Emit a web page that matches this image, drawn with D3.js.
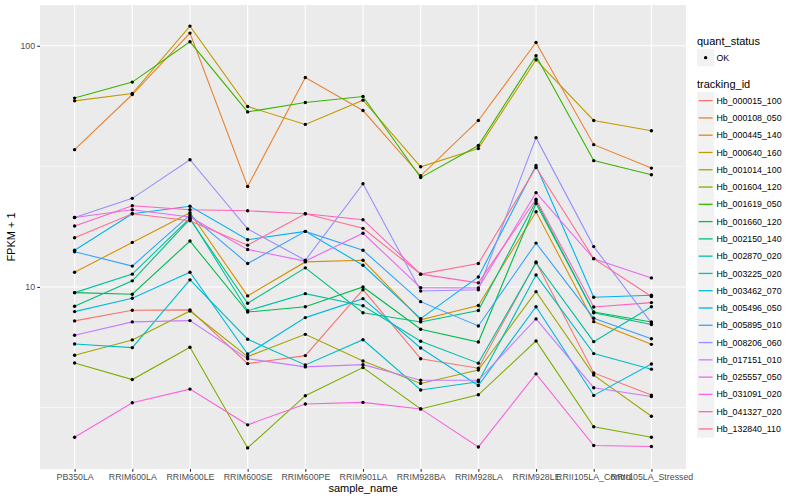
<!DOCTYPE html>
<html>
<head>
<meta charset="utf-8">
<script src="https://cdnjs.cloudflare.com/ajax/libs/d3/7.8.5/d3.min.js"></script>
<style>
  body { margin: 0; background: #fff; }
  text { font-family: "Liberation Sans", Arial, Helvetica, sans-serif; }
</style>
</head>
<body>
<script>
var samples = ["PB350LA", "RRIM600LA", "RRIM600LE", "RRIM600SE", "RRIM600PE", "RRIM901LA",
  "RRIM928BA", "RRIM928LA", "RRIM928LE", "RRII105LA_Control", "RRII105LA_Stressed"];

var trackingIds = ["Hb_000015_100", "Hb_000108_050", "Hb_000445_140", "Hb_000640_160", "Hb_001014_100",
  "Hb_001604_120", "Hb_001619_050", "Hb_001660_120", "Hb_002150_140", "Hb_002870_020",
  "Hb_003225_020", "Hb_003462_070", "Hb_005496_050", "Hb_005895_010", "Hb_008206_060",
  "Hb_017151_010", "Hb_025557_050", "Hb_031091_020", "Hb_041327_020", "Hb_132840_110"];

var lineColors = ["#F8766D", "#EA8331", "#D89000", "#C09B00", "#A3A500", "#7CAE00", "#39B600", "#00BB4E",
  "#00BF7D", "#00C1A3", "#00BFC4", "#00BAE0", "#00B0F6", "#35A2FF", "#9590FF", "#C77CFF",
  "#E76BF3", "#FA62DB", "#FF62BC", "#FF6C91"];

// FPKM + 1, one value per sample
var Hb_000015_100 = [7.23, 8.00, 8.03, 4.81, 5.19, 9.74, 5.04, 4.60, 12.7, 4.40, 3.56];
var Hb_000108_050 = [37.1, 62.8, 112.9, 26.1, 73.9, 53.9, 28.9, 49.0, 103.2, 38.9, 31.1];
var Hb_000445_140 = [11.5, 15.3, 20.3, 9.18, 12.7, 12.9, 7.30, 8.38, 20.5, 7.18, 5.78];
var Hb_000640_160 = [59.1, 63.4, 120.7, 56.0, 47.2, 59.5, 31.5, 37.5, 87.5, 49.0, 44.4];
var Hb_001014_100 = [5.21, 6.03, 7.95, 5.14, 6.36, 4.93, 3.98, 4.52, 9.56, 4.31, 2.91];
var Hb_001604_120 = [4.84, 4.13, 5.62, 2.15, 3.54, 4.63, 3.12, 3.57, 5.97, 2.63, 2.38];
var Hb_001619_050 = [60.7, 70.7, 103.9, 53.2, 58.2, 61.6, 28.4, 38.6, 90.9, 33.4, 29.2];
var Hb_001660_120 = [9.47, 9.33, 15.5, 7.87, 8.28, 10.0, 6.68, 5.91, 22.2, 7.87, 7.16];
var Hb_002150_140 = [8.32, 10.6, 19.1, 8.56, 12.0, 7.82, 7.16, 7.99, 22.7, 7.82, 6.98];
var Hb_002870_020 = [9.47, 11.3, 19.3, 7.97, 9.38, 8.36, 5.95, 4.83, 12.6, 5.93, 8.28];
var Hb_003225_020 = [5.80, 5.60, 10.7, 6.07, 4.75, 6.04, 3.74, 4.04, 11.2, 5.29, 4.56];
var Hb_003462_070 = [7.90, 8.98, 11.5, 5.27, 7.46, 8.94, 5.58, 3.90, 8.28, 3.55, 4.79];
var Hb_005496_050 = [14.2, 20.1, 21.6, 15.7, 17.0, 12.3, 7.39, 11.0, 31.9, 9.06, 9.24];
var Hb_005895_010 = [14.0, 12.2, 19.9, 12.5, 17.0, 14.2, 8.69, 6.89, 15.2, 7.42, 6.10];
var Hb_008206_060 = [19.4, 23.3, 33.7, 17.4, 12.9, 26.8, 9.62, 9.74, 41.6, 14.7, 7.09];
var Hb_017151_010 = [6.30, 7.16, 7.25, 5.04, 4.66, 4.76, 4.10, 4.10, 7.37, 3.82, 3.51];
var Hb_025557_050 = [19.4, 20.9, 19.5, 14.3, 12.8, 16.7, 9.93, 9.90, 24.6, 13.1, 10.9];
var Hb_031091_020 = [2.38, 3.31, 3.77, 2.68, 3.27, 3.32, 3.12, 2.17, 4.36, 2.20, 2.18];
var Hb_041327_020 = [17.9, 21.7, 20.9, 20.7, 20.1, 19.0, 11.3, 10.4, 23.1, 8.26, 8.61];
var Hb_132840_110 = [16.0, 20.1, 18.8, 14.9, 20.1, 17.5, 11.3, 12.5, 31.3, 13.1, 9.12];

var series = [Hb_000015_100, Hb_000108_050, Hb_000445_140, Hb_000640_160, Hb_001014_100,
  Hb_001604_120, Hb_001619_050, Hb_001660_120, Hb_002150_140, Hb_002870_020,
  Hb_003225_020, Hb_003462_070, Hb_005496_050, Hb_005895_010, Hb_008206_060,
  Hb_017151_010, Hb_025557_050, Hb_031091_020, Hb_041327_020, Hb_132840_110];

var majorTicks = [10, 100];
var minorTicks = [3.162, 31.62];

var W = 800, H = 500;
var panel = { left: 40, right: 686, top: 5, bottom: 469 };

var svg = d3.select('body').append('svg')
  .attr('width', W)
  .attr('height', H);

var x = d3.scalePoint()
  .domain(samples)
  .range([panel.left, panel.right])
  .padding(0.6);

// log scale with 5% expansion like ggplot
var allVals = d3.merge(series);
var lo = Math.log10(d3.min(allVals)), hi = Math.log10(d3.max(allVals));
var pad = (hi - lo) * 0.05;
var y = d3.scaleLog()
  .domain([Math.pow(10, lo - pad), Math.pow(10, hi + pad)])
  .range([panel.bottom, panel.top]);

// panel + grid
svg.append('rect')
  .attr('x', panel.left).attr('y', panel.top)
  .attr('width', panel.right - panel.left)
  .attr('height', panel.bottom - panel.top)
  .attr('fill', '#EBEBEB');

svg.selectAll('line.minor').data(minorTicks).enter().append('line')
  .attr('class', 'minor')
  .attr('x1', panel.left).attr('x2', panel.right)
  .attr('y1', function(d) { return y(d); })
  .attr('y2', function(d) { return y(d); })
  .attr('stroke', '#fff').attr('stroke-width', 0.55);

svg.selectAll('line.hmajor').data(majorTicks).enter().append('line')
  .attr('class', 'hmajor')
  .attr('x1', panel.left).attr('x2', panel.right)
  .attr('y1', function(d) { return y(d); })
  .attr('y2', function(d) { return y(d); })
  .attr('stroke', '#fff').attr('stroke-width', 1.1);

svg.selectAll('line.vmajor').data(samples).enter().append('line')
  .attr('class', 'vmajor')
  .attr('x1', function(d) { return x(d); })
  .attr('x2', function(d) { return x(d); })
  .attr('y1', panel.top).attr('y2', panel.bottom)
  .attr('stroke', '#fff').attr('stroke-width', 1.1);

// lines
var line = d3.line()
  .x(function(d, i) { return x(samples[i]); })
  .y(function(d) { return y(d); });

svg.append('g').selectAll('path').data(series).enter().append('path')
  .attr('d', line)
  .attr('fill', 'none')
  .attr('stroke', function(d, i) { return lineColors[i]; })
  .attr('stroke-width', 1.1);

// points
var pts = [];
series.forEach(function(s) {
  s.forEach(function(v, i) { pts.push({ s: samples[i], v: v }); });
});
svg.append('g').selectAll('circle').data(pts).enter().append('circle')
  .attr('cx', function(d) { return x(d.s); })
  .attr('cy', function(d) { return y(d.v); })
  .attr('r', 1.7)
  .attr('fill', '#000');

// axes
var yAxis = svg.append('g')
  .attr('transform', 'translate(' + panel.left + ',0)')
  .call(d3.axisLeft(y).tickValues(majorTicks).tickFormat(d3.format('d')).tickSize(2.75).tickPadding(2.2));

var xAxis = svg.append('g')
  .attr('transform', 'translate(0,' + panel.bottom + ')')
  .call(d3.axisBottom(x).tickSize(2.75).tickPadding(2.2));

[xAxis, yAxis].forEach(function(ax) {
  ax.select('.domain').remove();
  ax.selectAll('.tick line').attr('stroke', '#333333').attr('stroke-width', 1.1);
  ax.selectAll('.tick text')
    .attr('fill', '#4D4D4D')
    .style('font-size', '8.8px')
    .style('font-family', '"Liberation Sans", Arial, sans-serif');
});

svg.append('text')
  .attr('x', (panel.left + panel.right) / 2)
  .attr('y', 492)
  .attr('text-anchor', 'middle')
  .style('font-size', '11px')
  .text('sample_name');

svg.append('text')
  .attr('transform', 'translate(15,' + ((panel.top + panel.bottom) / 2) + ') rotate(-90)')
  .attr('text-anchor', 'middle')
  .style('font-size', '11px')
  .text('FPKM + 1');

// legends
var keySize = 17.28;
var lx = 697;

svg.append('text')
  .attr('x', lx).attr('y', 45)
  .style('font-size', '11px')
  .text('quant_status');

svg.append('rect')
  .attr('x', lx).attr('y', 49)
  .attr('width', keySize).attr('height', keySize)
  .attr('fill', '#F2F2F2');
svg.append('circle')
  .attr('cx', lx + keySize / 2).attr('cy', 49 + keySize / 2)
  .attr('r', 1.7).attr('fill', '#000');
svg.append('text')
  .attr('x', lx + keySize + 2.2).attr('y', 49 + keySize / 2)
  .attr('dy', '0.35em')
  .style('font-size', '8.8px')
  .text('OK');

svg.append('text')
  .attr('x', lx).attr('y', 88)
  .style('font-size', '11px')
  .text('tracking_id');

var keys = svg.append('g').selectAll('g').data(trackingIds).enter().append('g')
  .attr('transform', function(d, i) { return 'translate(' + lx + ',' + (92 + i * keySize) + ')'; });

keys.append('rect')
  .attr('width', keySize).attr('height', keySize)
  .attr('fill', '#F2F2F2');
keys.append('line')
  .attr('x1', 1.7).attr('x2', keySize - 1.7)
  .attr('y1', keySize / 2).attr('y2', keySize / 2)
  .attr('stroke', function(d, i) { return lineColors[i]; })
  .attr('stroke-width', 1.3);
keys.append('text')
  .attr('x', keySize + 2.2).attr('y', keySize / 2)
  .attr('dy', '0.35em')
  .style('font-size', '8.8px')
  .text(function(d) { return d; });
</script>
</body>
</html>
